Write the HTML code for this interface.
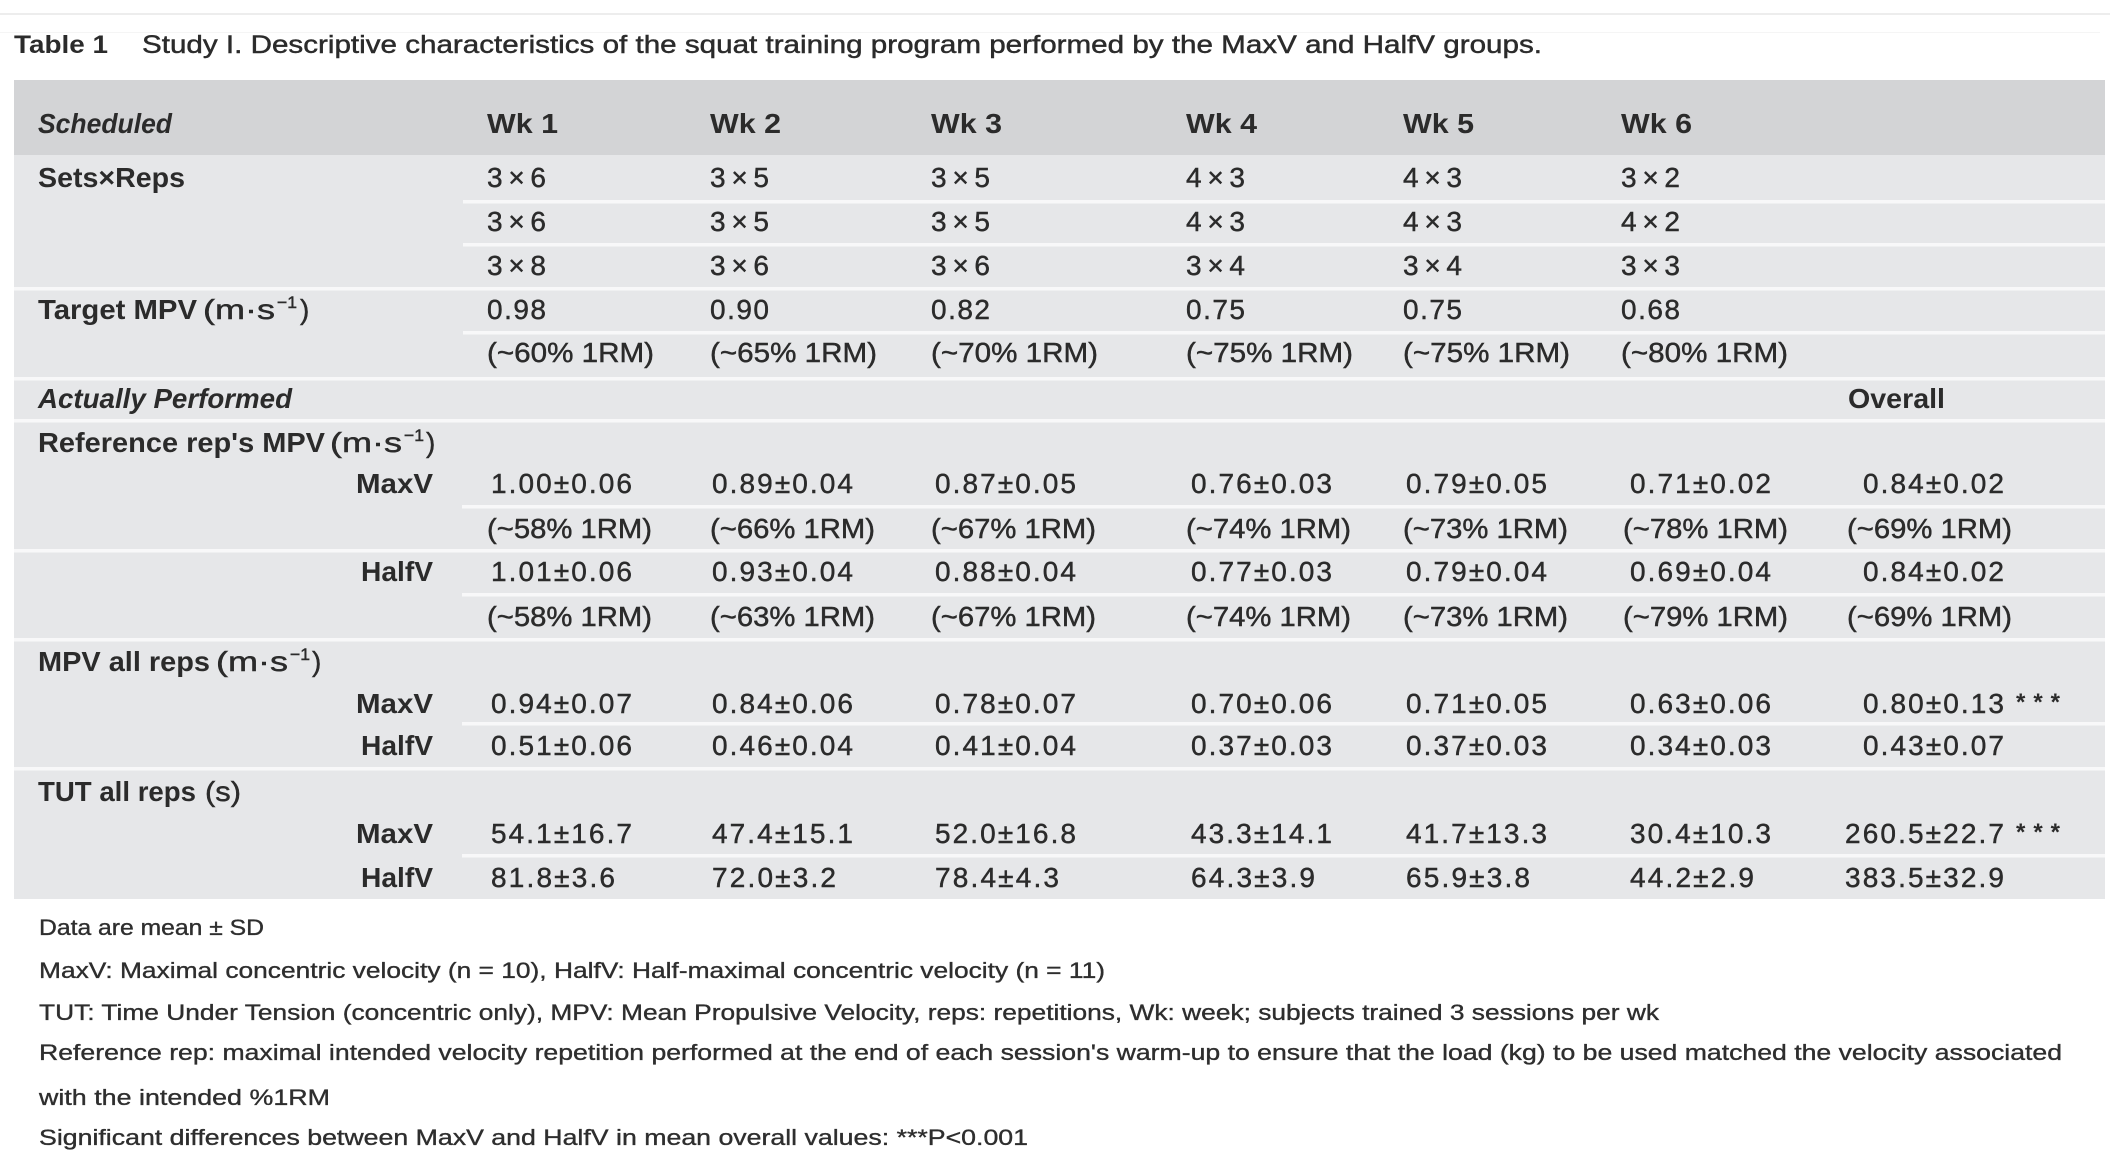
<!DOCTYPE html>
<html><head><meta charset="utf-8"><style>
html,body{margin:0;padding:0;background:#fff;}
svg{display:block;}
text{font-family:"Liberation Sans",sans-serif;fill:#2b2b2b;stroke:#2b2b2b;stroke-width:0.45px;}
.b,.bi{stroke-width:0;}
.b{font-weight:bold;}
.bi{font-weight:bold;font-style:italic;}
.t{font-size:28px;}
.f text{font-size:22px;fill:#2e2e2e;stroke:#2e2e2e;stroke-width:0.35px;}
</style></head><body>
<svg width="2122" height="1162" viewBox="0 0 2122 1162" xmlns="http://www.w3.org/2000/svg">
<rect x="0" y="0" width="2122" height="1162" fill="#fff"/>
<rect x="0" y="13" width="2110" height="2" fill="#ededed"/>
<rect x="0" y="32" width="2100" height="1" fill="#f5f5f5"/>
<!-- title -->
<text x="14" y="53" font-size="25" class="b" textLength="94" lengthAdjust="spacingAndGlyphs">Table 1</text>
<text x="142" y="53" font-size="25" textLength="1400" lengthAdjust="spacingAndGlyphs">Study I. Descriptive characteristics of the squat training program performed by the MaxV and HalfV groups.</text>
<!-- bands -->
<rect x="14" y="80" width="2091" height="75" fill="#d3d4d6"/>
<rect x="14" y="155" width="2091" height="744" fill="#e6e7e9"/>
<!-- separators -->
<g fill="#f8f8f9">
<rect x="463" y="200" width="1642" height="3.5"/>
<rect x="463" y="243" width="1642" height="3.5"/>
<rect x="14" y="287" width="2091" height="3.5"/>
<rect x="463" y="331" width="1642" height="3.5"/>
<rect x="14" y="377" width="2091" height="3.5"/>
<rect x="14" y="419" width="2091" height="3.5"/>
<rect x="462" y="505" width="1643" height="3.5"/>
<rect x="14" y="549" width="2091" height="3.5"/>
<rect x="462" y="593" width="1643" height="3.5"/>
<rect x="14" y="638" width="2091" height="3.5"/>
<rect x="462" y="722" width="1643" height="3.5"/>
<rect x="14" y="767" width="2091" height="3.5"/>
<rect x="462" y="854" width="1643" height="3.5"/>
</g>
<!-- header -->
<g class="t">
<text x="38" y="133" class="bi" textLength="134" lengthAdjust="spacingAndGlyphs">Scheduled</text>
<text x="487" y="133" class="b" textLength="71" lengthAdjust="spacingAndGlyphs">Wk 1</text>
<text x="710" y="133" class="b" textLength="71" lengthAdjust="spacingAndGlyphs">Wk 2</text>
<text x="931" y="133" class="b" textLength="71" lengthAdjust="spacingAndGlyphs">Wk 3</text>
<text x="1186" y="133" class="b" textLength="71" lengthAdjust="spacingAndGlyphs">Wk 4</text>
<text x="1403" y="133" class="b" textLength="71" lengthAdjust="spacingAndGlyphs">Wk 5</text>
<text x="1621" y="133" class="b" textLength="71" lengthAdjust="spacingAndGlyphs">Wk 6</text>

<!-- left labels -->
<text x="38" y="187" class="b" textLength="147" lengthAdjust="spacingAndGlyphs">Sets×Reps</text>
<text x="38" y="319" class="b" textLength="159" lengthAdjust="spacingAndGlyphs">Target MPV</text>
<text x="203" y="319" textLength="72" lengthAdjust="spacingAndGlyphs">(m·s</text>
<text x="277" y="308" font-size="17" textLength="20" lengthAdjust="spacingAndGlyphs">−1</text>
<text x="300" y="319">)</text>

<text x="38" y="408" class="bi" textLength="254" lengthAdjust="spacingAndGlyphs">Actually Performed</text>
<text x="1848" y="408" class="b" textLength="97" lengthAdjust="spacingAndGlyphs">Overall</text>

<text x="38" y="452" class="b" textLength="287" lengthAdjust="spacingAndGlyphs">Reference rep's MPV</text>
<text x="330" y="452" textLength="72" lengthAdjust="spacingAndGlyphs">(m·s</text>
<text x="404" y="441" font-size="17" textLength="20" lengthAdjust="spacingAndGlyphs">−1</text>
<text x="426" y="452">)</text>

<text x="356" y="493" class="b" textLength="77" lengthAdjust="spacingAndGlyphs">MaxV</text>
<text x="361" y="581" class="b" textLength="72" lengthAdjust="spacingAndGlyphs">HalfV</text>

<text x="38" y="671" class="b" textLength="172" lengthAdjust="spacingAndGlyphs">MPV all reps</text>
<text x="216" y="671" textLength="72" lengthAdjust="spacingAndGlyphs">(m·s</text>
<text x="290" y="660" font-size="17" textLength="20" lengthAdjust="spacingAndGlyphs">−1</text>
<text x="312" y="671">)</text>
<text x="356" y="713" class="b" textLength="77" lengthAdjust="spacingAndGlyphs">MaxV</text>
<text x="361" y="755" class="b" textLength="72" lengthAdjust="spacingAndGlyphs">HalfV</text>

<text x="38" y="801" class="b" textLength="158" lengthAdjust="spacingAndGlyphs">TUT all reps</text>
<text x="205" y="801" textLength="36" lengthAdjust="spacingAndGlyphs">(s)</text>
<text x="356" y="843" class="b" textLength="77" lengthAdjust="spacingAndGlyphs">MaxV</text>
<text x="361" y="887" class="b" textLength="72" lengthAdjust="spacingAndGlyphs">HalfV</text>

<!-- scheduled cells -->
<g>
<text x="487" y="187" textLength="59" lengthAdjust="spacing">3×6</text>
<text x="487" y="231" textLength="59" lengthAdjust="spacing">3×6</text>
<text x="487" y="275" textLength="59" lengthAdjust="spacing">3×8</text>
<text x="487" y="319" textLength="59" lengthAdjust="spacing">0.98</text>
<text x="487" y="362" textLength="167" lengthAdjust="spacingAndGlyphs">(~60% 1RM)</text>

<text x="710" y="187" textLength="59" lengthAdjust="spacing">3×5</text>
<text x="710" y="231" textLength="59" lengthAdjust="spacing">3×5</text>
<text x="710" y="275" textLength="59" lengthAdjust="spacing">3×6</text>
<text x="710" y="319" textLength="59" lengthAdjust="spacing">0.90</text>
<text x="710" y="362" textLength="167" lengthAdjust="spacingAndGlyphs">(~65% 1RM)</text>

<text x="931" y="187" textLength="59" lengthAdjust="spacing">3×5</text>
<text x="931" y="231" textLength="59" lengthAdjust="spacing">3×5</text>
<text x="931" y="275" textLength="59" lengthAdjust="spacing">3×6</text>
<text x="931" y="319" textLength="59" lengthAdjust="spacing">0.82</text>
<text x="931" y="362" textLength="167" lengthAdjust="spacingAndGlyphs">(~70% 1RM)</text>

<text x="1186" y="187" textLength="59" lengthAdjust="spacing">4×3</text>
<text x="1186" y="231" textLength="59" lengthAdjust="spacing">4×3</text>
<text x="1186" y="275" textLength="59" lengthAdjust="spacing">3×4</text>
<text x="1186" y="319" textLength="59" lengthAdjust="spacing">0.75</text>
<text x="1186" y="362" textLength="167" lengthAdjust="spacingAndGlyphs">(~75% 1RM)</text>

<text x="1403" y="187" textLength="59" lengthAdjust="spacing">4×3</text>
<text x="1403" y="231" textLength="59" lengthAdjust="spacing">4×3</text>
<text x="1403" y="275" textLength="59" lengthAdjust="spacing">3×4</text>
<text x="1403" y="319" textLength="59" lengthAdjust="spacing">0.75</text>
<text x="1403" y="362" textLength="167" lengthAdjust="spacingAndGlyphs">(~75% 1RM)</text>

<text x="1621" y="187" textLength="59" lengthAdjust="spacing">3×2</text>
<text x="1621" y="231" textLength="59" lengthAdjust="spacing">4×2</text>
<text x="1621" y="275" textLength="59" lengthAdjust="spacing">3×3</text>
<text x="1621" y="319" textLength="59" lengthAdjust="spacing">0.68</text>
<text x="1621" y="362" textLength="167" lengthAdjust="spacingAndGlyphs">(~80% 1RM)</text>
</g>

<!-- Reference rep MPV MaxV -->
<text x="491" y="493" textLength="141" lengthAdjust="spacing">1.00±0.06</text>
<text x="712" y="493" textLength="141" lengthAdjust="spacing">0.89±0.04</text>
<text x="935" y="493" textLength="141" lengthAdjust="spacing">0.87±0.05</text>
<text x="1191" y="493" textLength="141" lengthAdjust="spacing">0.76±0.03</text>
<text x="1406" y="493" textLength="141" lengthAdjust="spacing">0.79±0.05</text>
<text x="1630" y="493" textLength="141" lengthAdjust="spacing">0.71±0.02</text>
<text x="1863" y="493" textLength="141" lengthAdjust="spacing">0.84±0.02</text>

<text x="487" y="538" textLength="165" lengthAdjust="spacingAndGlyphs">(~58% 1RM)</text>
<text x="710" y="538" textLength="165" lengthAdjust="spacingAndGlyphs">(~66% 1RM)</text>
<text x="931" y="538" textLength="165" lengthAdjust="spacingAndGlyphs">(~67% 1RM)</text>
<text x="1186" y="538" textLength="165" lengthAdjust="spacingAndGlyphs">(~74% 1RM)</text>
<text x="1403" y="538" textLength="165" lengthAdjust="spacingAndGlyphs">(~73% 1RM)</text>
<text x="1623" y="538" textLength="165" lengthAdjust="spacingAndGlyphs">(~78% 1RM)</text>
<text x="1847" y="538" textLength="165" lengthAdjust="spacingAndGlyphs">(~69% 1RM)</text>

<!-- Reference rep MPV HalfV -->
<text x="491" y="581" textLength="141" lengthAdjust="spacing">1.01±0.06</text>
<text x="712" y="581" textLength="141" lengthAdjust="spacing">0.93±0.04</text>
<text x="935" y="581" textLength="141" lengthAdjust="spacing">0.88±0.04</text>
<text x="1191" y="581" textLength="141" lengthAdjust="spacing">0.77±0.03</text>
<text x="1406" y="581" textLength="141" lengthAdjust="spacing">0.79±0.04</text>
<text x="1630" y="581" textLength="141" lengthAdjust="spacing">0.69±0.04</text>
<text x="1863" y="581" textLength="141" lengthAdjust="spacing">0.84±0.02</text>

<text x="487" y="626" textLength="165" lengthAdjust="spacingAndGlyphs">(~58% 1RM)</text>
<text x="710" y="626" textLength="165" lengthAdjust="spacingAndGlyphs">(~63% 1RM)</text>
<text x="931" y="626" textLength="165" lengthAdjust="spacingAndGlyphs">(~67% 1RM)</text>
<text x="1186" y="626" textLength="165" lengthAdjust="spacingAndGlyphs">(~74% 1RM)</text>
<text x="1403" y="626" textLength="165" lengthAdjust="spacingAndGlyphs">(~73% 1RM)</text>
<text x="1623" y="626" textLength="165" lengthAdjust="spacingAndGlyphs">(~79% 1RM)</text>
<text x="1847" y="626" textLength="165" lengthAdjust="spacingAndGlyphs">(~69% 1RM)</text>

<!-- MPV all reps -->
<text x="491" y="713" textLength="141" lengthAdjust="spacing">0.94±0.07</text>
<text x="712" y="713" textLength="141" lengthAdjust="spacing">0.84±0.06</text>
<text x="935" y="713" textLength="141" lengthAdjust="spacing">0.78±0.07</text>
<text x="1191" y="713" textLength="141" lengthAdjust="spacing">0.70±0.06</text>
<text x="1406" y="713" textLength="141" lengthAdjust="spacing">0.71±0.05</text>
<text x="1630" y="713" textLength="141" lengthAdjust="spacing">0.63±0.06</text>
<text x="1863" y="713" textLength="141" lengthAdjust="spacing">0.80±0.13</text>
<text x="2016" y="710" font-size="24" class="b" textLength="44" lengthAdjust="spacing">***</text>

<text x="491" y="755" textLength="141" lengthAdjust="spacing">0.51±0.06</text>
<text x="712" y="755" textLength="141" lengthAdjust="spacing">0.46±0.04</text>
<text x="935" y="755" textLength="141" lengthAdjust="spacing">0.41±0.04</text>
<text x="1191" y="755" textLength="141" lengthAdjust="spacing">0.37±0.03</text>
<text x="1406" y="755" textLength="141" lengthAdjust="spacing">0.37±0.03</text>
<text x="1630" y="755" textLength="141" lengthAdjust="spacing">0.34±0.03</text>
<text x="1863" y="755" textLength="141" lengthAdjust="spacing">0.43±0.07</text>

<!-- TUT all reps -->
<text x="491" y="843" textLength="141" lengthAdjust="spacing">54.1±16.7</text>
<text x="712" y="843" textLength="141" lengthAdjust="spacing">47.4±15.1</text>
<text x="935" y="843" textLength="141" lengthAdjust="spacing">52.0±16.8</text>
<text x="1191" y="843" textLength="141" lengthAdjust="spacing">43.3±14.1</text>
<text x="1406" y="843" textLength="141" lengthAdjust="spacing">41.7±13.3</text>
<text x="1630" y="843" textLength="141" lengthAdjust="spacing">30.4±10.3</text>
<text x="1845" y="843" textLength="159" lengthAdjust="spacing">260.5±22.7</text>
<text x="2016" y="840" font-size="24" class="b" textLength="44" lengthAdjust="spacing">***</text>

<text x="491" y="887" textLength="124" lengthAdjust="spacing">81.8±3.6</text>
<text x="712" y="887" textLength="124" lengthAdjust="spacing">72.0±3.2</text>
<text x="935" y="887" textLength="124" lengthAdjust="spacing">78.4±4.3</text>
<text x="1191" y="887" textLength="124" lengthAdjust="spacing">64.3±3.9</text>
<text x="1406" y="887" textLength="124" lengthAdjust="spacing">65.9±3.8</text>
<text x="1630" y="887" textLength="124" lengthAdjust="spacing">44.2±2.9</text>
<text x="1845" y="887" textLength="159" lengthAdjust="spacing">383.5±32.9</text>
</g>

<!-- footnotes -->
<g class="f">
<text x="39" y="935" textLength="225" lengthAdjust="spacingAndGlyphs">Data are mean ± SD</text>
<text x="39" y="978" textLength="1066" lengthAdjust="spacingAndGlyphs">MaxV: Maximal concentric velocity (n = 10), HalfV: Half-maximal concentric velocity (n = 11)</text>
<text x="39" y="1020" textLength="1620" lengthAdjust="spacingAndGlyphs">TUT: Time Under Tension (concentric only), MPV: Mean Propulsive Velocity, reps: repetitions, Wk: week; subjects trained 3 sessions per wk</text>
<text x="39" y="1060" textLength="2023" lengthAdjust="spacingAndGlyphs">Reference rep: maximal intended velocity repetition performed at the end of each session's warm-up to ensure that the load (kg) to be used matched the velocity associated</text>
<text x="39" y="1105" textLength="291" lengthAdjust="spacingAndGlyphs">with the intended %1RM</text>
<text x="39" y="1145" textLength="989" lengthAdjust="spacingAndGlyphs">Significant differences between MaxV and HalfV in mean overall values: ***P&lt;0.001</text>
</g>
</svg>
</body></html>
